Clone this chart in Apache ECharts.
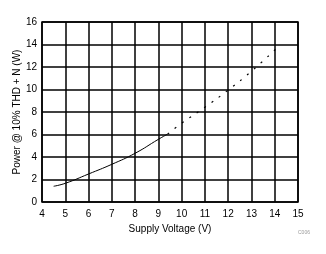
<!DOCTYPE html>
<html><head><meta charset="utf-8">
<script src="https://cdn.jsdelivr.net/npm/echarts@6/dist/echarts.min.js"></script>
<style>html,body{margin:0;padding:0;background:#fff}#c{width:326px;height:254px}</style>
</head><body><div id="c"></div>
<script>
const solidVolts = [4.5, 5, 6, 7, 8, 9, 9.4];
const solidPower = [1.4, 1.66, 2.49, 3.35, 4.33, 5.57, 6.04];
const dashVolts = [9.4, 10, 11, 12, 13, 14.1];
const dashPower = [6.04, 7.0, 8.42, 9.95, 11.62, 13.7];
const xTitle = 'Supply Voltage (V)';
const yTitle = 'Power @ 10% THD + N (W)';
const chart = echarts.init(document.getElementById('c'), null, {renderer:'canvas'});
const zip = (a,b)=>a.map((v,i)=>[v,b[i]]);
const font = 'Liberation Sans, Arial, sans-serif';
chart.setOption({
  animation:false,
  grid:{left:42,top:22,width:256,height:180,show:true,borderColor:'#000',borderWidth:1.5,
    outerBoundsMode:'none',containLabel:false},
  xAxis:{type:'value',min:4,max:15,interval:1,
    axisLine:{show:false},axisTick:{show:false},
    splitLine:{lineStyle:{color:'#000',width:1.5}},
    axisLabel:{color:'#000',fontFamily:font,fontSize:10,margin:7},
    name:xTitle,nameLocation:'middle',nameGap:22,nameMoveOverlap:false,
    nameTextStyle:{color:'#000',fontFamily:font,fontSize:10}},
  yAxis:{type:'value',min:0,max:16,interval:2,
    axisLine:{show:false},axisTick:{show:false},
    splitLine:{lineStyle:{color:'#000',width:1.5}},
    axisLabel:{color:'#000',fontFamily:font,fontSize:10,margin:5},
    name:yTitle,nameLocation:'middle',nameGap:20,nameMoveOverlap:false,
    nameTextStyle:{color:'#000',fontFamily:font,fontSize:10}},
  graphic:[{type:'text',left:298,top:230,style:{text:'C006',fill:'#999',font:'5px '+font}}],
  series:[
    {type:'line',data:zip(solidVolts,solidPower),showSymbol:false,smooth:true,
     lineStyle:{color:'#000',width:1}},
    {type:'line',data:zip(dashVolts,dashPower),showSymbol:false,smooth:true,
     lineStyle:{color:'#000',width:1.2,type:[2,7]}}
  ]
});
</script></body></html>
